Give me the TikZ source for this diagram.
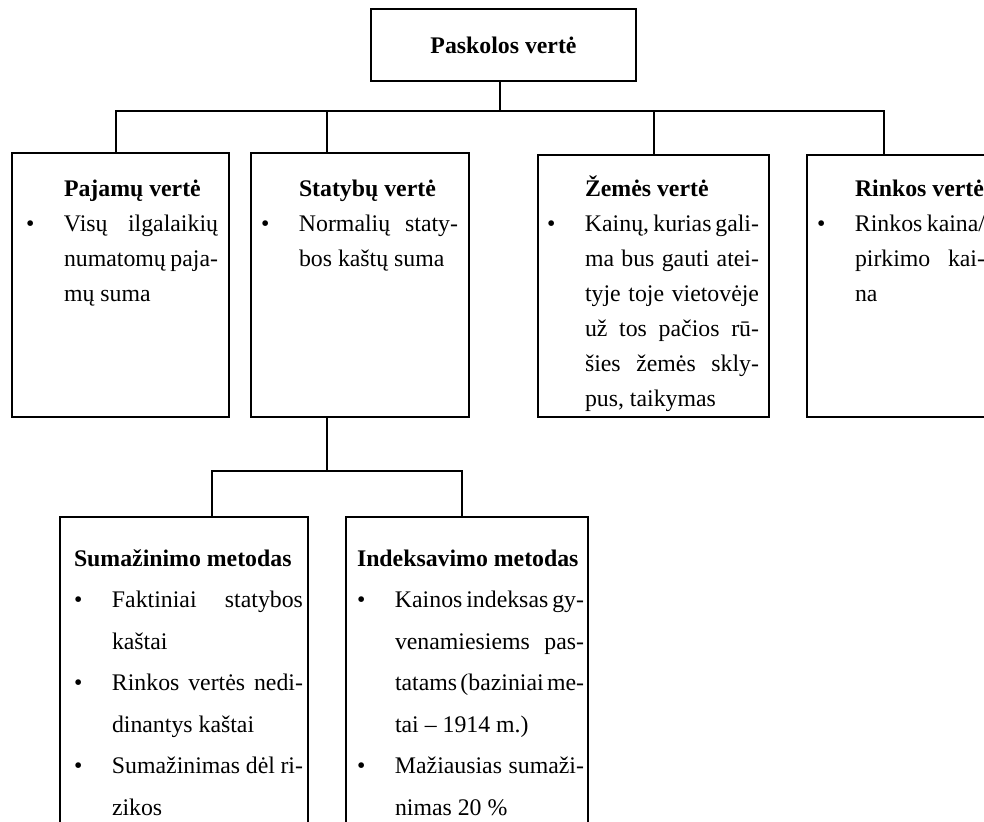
\documentclass[tikz,border=0pt]{standalone}
\usepackage{fontspec}
\setmainfont{Liberation Serif}[WordSpace={1,1,3}]
\usetikzlibrary{positioning, fit}

\tolerance=9999
\hyphenpenalty=10000
\newcommand{\punktas}[1]{\par\hangindent=19pt\hangafter=1\noindent\makebox[19pt][l]{\textbullet}#1\par}

\begin{document}
\begin{tikzpicture}[x=0.5pt, y=-0.5pt, line width=1pt,
  langas/.style={draw, line width=1pt, inner sep=0pt},
  tekstas/.style={anchor=base west, inner sep=0pt, align=justify,
    font=\fontsize{11.9}{17.5}\selectfont},
  apatinis/.style={tekstas, font=\fontsize{11.9}{20.75}\selectfont}]
  \useasboundingbox (0,0) rectangle (984,821);
  \clip (0,0) rectangle (984,821);
  % virsus
  \node[langas, fit={(371,9) (636,81)}] (paskola) {};
  \node[font=\fontsize{11.9}{14}\selectfont\bfseries, inner sep=0pt] (paskola-t) at (paskola.center) {Paskolos vertė};
  % pirmas lygis
  \node[langas, fit={(12,153) (229,417)}] (pajamos) {};
  \node[langas, fit={(251,153) (469,417)}] (statyba) {};
  \node[langas, fit={(538,155) (769,417)}] (zeme) {};
  \node[langas, fit={(807,155) (1050,417)}] (rinka) {};
  \node[tekstas, text width=96pt] (pajamos-t) at (25,196)
    {\hspace*{19pt}\textbf{Pajamų vertė}
     \punktas{Visų ilgalaikių\linebreak numatomų paja-\linebreak mų suma}};
  \node[tekstas, text width=98.5pt] (statyba-t) at (260,196)
    {\hspace*{19pt}\textbf{Statybų vertė}
     \punktas{Normalių staty-\linebreak bos kaštų suma}};
  \node[tekstas, text width=106pt] (zeme-t) at (546,196)
    {\hspace*{19pt}\textbf{Žemės vertė}
     \punktas{Kainų, kurias gali-\linebreak ma bus gauti atei-\linebreak tyje toje vietovėje\linebreak už tos pačios rū-\linebreak šies žemės skly-\linebreak pus, taikymas}};
  \node[tekstas, text width=84pt] (rinka-t) at (816,196)
    {\hspace*{19pt}\textbf{Rinkos vertė}
     \punktas{Rinkos kaina/\linebreak pirkimo kai-\linebreak na}};
  % antras lygis
  \node[langas, fit={(60,517) (308,880)}] (mazinimas) {};
  \node[langas, fit={(346,517) (588,880)}] (indeksavimas) {};
  \node[apatinis, text width=114.5pt] (mazinimas-t) at (73,566)
    {\textbf{Sumažinimo metodas}
     \punktas{Faktiniai statybos\linebreak kaštai}
     \punktas{Rinkos vertės nedi-\linebreak dinantys kaštai}
     \punktas{Sumažinimas dėl ri-\linebreak zikos}};
  \node[apatinis, text width=113.5pt] (indeksavimas-t) at (356,566)
    {\textbf{Indeksavimo metodas}
     \punktas{Kainos indeksas gy-\linebreak venamiesiems pas-\linebreak tatams (baziniai me-\linebreak tai – 1914 m.)}
     \punktas{Mažiausias sumaži-\linebreak nimas 20~\%}};
  % jungtys
  \coordinate (b0) at (500,111);
  \coordinate (b1) at (116,111);
  \coordinate (b2) at (327,111);
  \coordinate (b3) at (654,111);
  \coordinate (b4) at (884,111);
  \draw (paskola.south -| b0) -- (b0);
  \draw (b1 |- pajamos.north) -- (b1) -- (b4) -- (b4 |- rinka.north);
  \draw (b2) -- (b2 |- statyba.north);
  \draw (b3) -- (b3 |- zeme.north);
  \coordinate (c0) at (327,471);
  \coordinate (c1) at (212,471);
  \coordinate (c2) at (462,471);
  \draw (statyba.south -| c0) -- (c0);
  \draw (c1 |- mazinimas.north) -- (c1) -- (c2) -- (c2 |- indeksavimas.north);
\end{tikzpicture}
\end{document}
